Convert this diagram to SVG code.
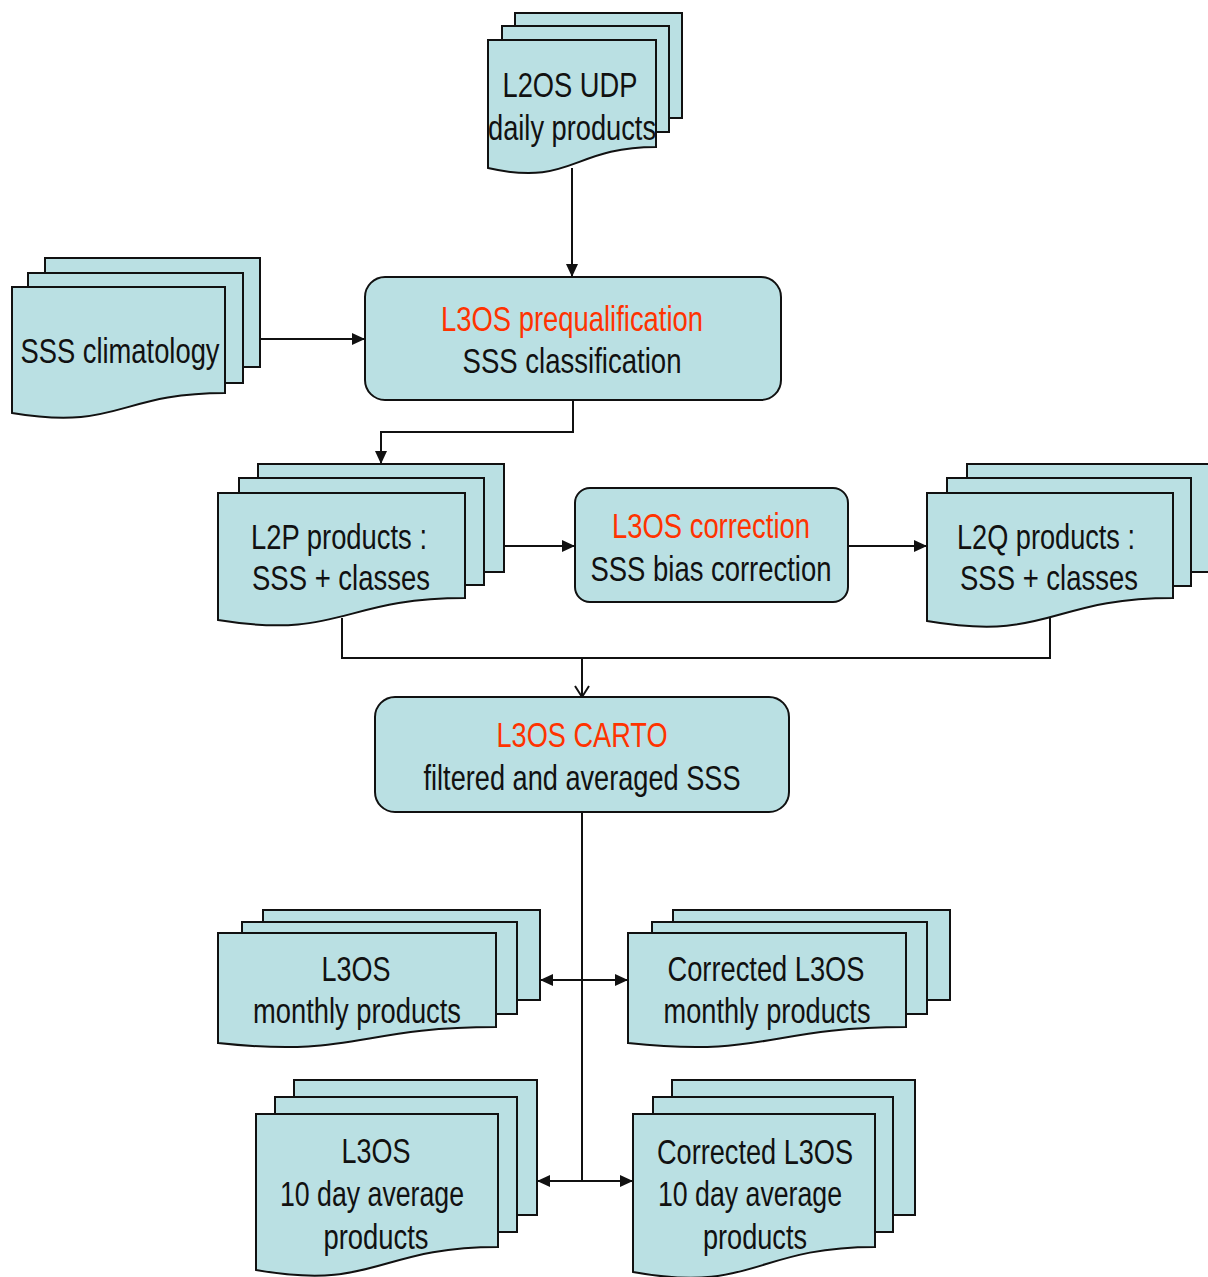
<svg xmlns="http://www.w3.org/2000/svg" width="1208" height="1277" viewBox="0 0 1208 1277">
<style>
.pg{fill:#bae0e3;stroke:#111;stroke-width:2}
.bx{fill:#bae0e3;stroke:#111;stroke-width:2}
.t{font-family:"Liberation Sans",Arial,sans-serif;font-size:35px;fill:#111;text-anchor:middle}
.r{fill:#ff3300}
.c{fill:none;stroke:#111;stroke-width:2}
</style>
<defs>
<marker id="arr" markerUnits="userSpaceOnUse" markerWidth="13" markerHeight="12" refX="13" refY="6" orient="auto-start-reverse"><path d="M0,0 L13,6 L0,12 Z" fill="#111"/></marker>
<marker id="varr" markerUnits="userSpaceOnUse" markerWidth="14" markerHeight="16" refX="12" refY="8" orient="auto"><path d="M1,1 L12,8 L1,15" fill="none" stroke="#111" stroke-width="2"/></marker>
</defs>
<rect width="1208" height="1277" fill="#fff"/>

<g id="connectors">
<line class="c" x1="572" y1="168" x2="572" y2="277" marker-end="url(#arr)"/>
<line class="c" x1="260" y1="339" x2="365" y2="339" marker-end="url(#arr)"/>
<polyline class="c" points="573,400 573,432 381,432 381,464" marker-end="url(#arr)"/>
<line class="c" x1="504" y1="546" x2="575" y2="546" marker-end="url(#arr)"/>
<line class="c" x1="848" y1="546" x2="927" y2="546" marker-end="url(#arr)"/>
<polyline class="c" points="342,618 342,658 1050,658 1050,618"/>
<line class="c" x1="582" y1="658" x2="582" y2="697" marker-end="url(#varr)"/>
<line class="c" x1="582" y1="812" x2="582" y2="1181"/>
<line class="c" x1="540" y1="980" x2="628" y2="980" marker-start="url(#arr)" marker-end="url(#arr)"/>
<line class="c" x1="537" y1="1181" x2="633" y2="1181" marker-start="url(#arr)" marker-end="url(#arr)"/>
</g>

<g id="l2os-udp">
<rect class="pg" x="515" y="13" width="167" height="105"/>
<rect class="pg" x="502" y="26" width="167" height="106"/>
<path class="pg" d="M488,40 H656 V147 C572,147 572,187 488,168 Z"/>
<text class="t" x="570" y="97" textLength="135" lengthAdjust="spacingAndGlyphs">L2OS UDP</text>
<text class="t" x="572" y="140" textLength="168" lengthAdjust="spacingAndGlyphs">daily products</text>
</g>

<g id="sss-climatology">
<rect class="pg" x="45" y="258" width="215" height="109"/>
<rect class="pg" x="28" y="273" width="215" height="110"/>
<path class="pg" d="M12,287 H225 V393 C118.5,393 118.5,431 12,413 Z"/>
<text class="t" x="120" y="363" textLength="199" lengthAdjust="spacingAndGlyphs">SSS climatology</text>
</g>

<g id="prequalification">
<rect class="bx" x="365" y="277" width="416" height="123" rx="20"/>
<text class="t r" x="572" y="331" textLength="262" lengthAdjust="spacingAndGlyphs">L3OS prequalification</text>
<text class="t" x="572" y="373" textLength="219" lengthAdjust="spacingAndGlyphs">SSS classification</text>
</g>

<g id="l2p">
<rect class="pg" x="258" y="464" width="246" height="108"/>
<rect class="pg" x="239" y="478" width="245" height="107"/>
<path class="pg" d="M218,493 H465 V598 C341.5,598 341.5,640 218,620 Z"/>
<text class="t" x="339" y="549" textLength="176" lengthAdjust="spacingAndGlyphs">L2P products :</text>
<text class="t" x="341" y="590" textLength="178" lengthAdjust="spacingAndGlyphs">SSS + classes</text>
</g>

<g id="correction">
<rect class="bx" x="575" y="488" width="273" height="114" rx="15"/>
<text class="t r" x="711" y="538" textLength="198" lengthAdjust="spacingAndGlyphs">L3OS correction</text>
<text class="t" x="711" y="581" textLength="241" lengthAdjust="spacingAndGlyphs">SSS bias correction</text>
</g>

<g id="l2q">
<rect class="pg" x="967" y="464" width="246" height="108"/>
<rect class="pg" x="947" y="478" width="244" height="108"/>
<path class="pg" d="M927,493 H1173 V598 C1050,598 1050,642 927,621 Z"/>
<text class="t" x="1046" y="549" textLength="178" lengthAdjust="spacingAndGlyphs">L2Q products :</text>
<text class="t" x="1049" y="590" textLength="178" lengthAdjust="spacingAndGlyphs">SSS + classes</text>
</g>

<g id="carto">
<rect class="bx" x="375" y="697" width="414" height="115" rx="20"/>
<text class="t r" x="582" y="747" textLength="171" lengthAdjust="spacingAndGlyphs">L3OS CARTO</text>
<text class="t" x="582" y="790" textLength="317" lengthAdjust="spacingAndGlyphs">filtered and averaged SSS</text>
</g>

<g id="l3os-monthly">
<rect class="pg" x="263" y="910" width="277" height="90"/>
<rect class="pg" x="242" y="922" width="275" height="92"/>
<path class="pg" d="M218,933 H496 V1027 C357,1027 357,1058 218,1043 Z"/>
<text class="t" x="356" y="981" textLength="69" lengthAdjust="spacingAndGlyphs">L3OS</text>
<text class="t" x="357" y="1023" textLength="208" lengthAdjust="spacingAndGlyphs">monthly products</text>
</g>

<g id="corrected-monthly">
<rect class="pg" x="673" y="910" width="277" height="90"/>
<rect class="pg" x="652" y="922" width="275" height="92"/>
<path class="pg" d="M628,933 H906 V1027 C767,1027 767,1058 628,1043 Z"/>
<text class="t" x="766" y="981" textLength="197" lengthAdjust="spacingAndGlyphs">Corrected L3OS</text>
<text class="t" x="767" y="1023" textLength="207" lengthAdjust="spacingAndGlyphs">monthly products</text>
</g>

<g id="l3os-10day">
<rect class="pg" x="294" y="1080" width="243" height="135"/>
<rect class="pg" x="275" y="1097" width="242" height="135"/>
<path class="pg" d="M256,1114 H498 V1247 C377,1247 377,1291 256,1270 Z"/>
<text class="t" x="376" y="1163" textLength="69" lengthAdjust="spacingAndGlyphs">L3OS</text>
<text class="t" x="372" y="1206" textLength="184" lengthAdjust="spacingAndGlyphs">10 day average</text>
<text class="t" x="376" y="1249" textLength="105" lengthAdjust="spacingAndGlyphs">products</text>
</g>

<g id="corrected-10day">
<rect class="pg" x="672" y="1080" width="243" height="135"/>
<rect class="pg" x="653" y="1097" width="240" height="135"/>
<path class="pg" d="M633,1114 H875 V1247 C754,1247 754,1294 633,1272 Z"/>
<text class="t" x="755" y="1164" textLength="196" lengthAdjust="spacingAndGlyphs">Corrected L3OS</text>
<text class="t" x="750" y="1206" textLength="184" lengthAdjust="spacingAndGlyphs">10 day average</text>
<text class="t" x="755" y="1249" textLength="104" lengthAdjust="spacingAndGlyphs">products</text>
</g>
</svg>
